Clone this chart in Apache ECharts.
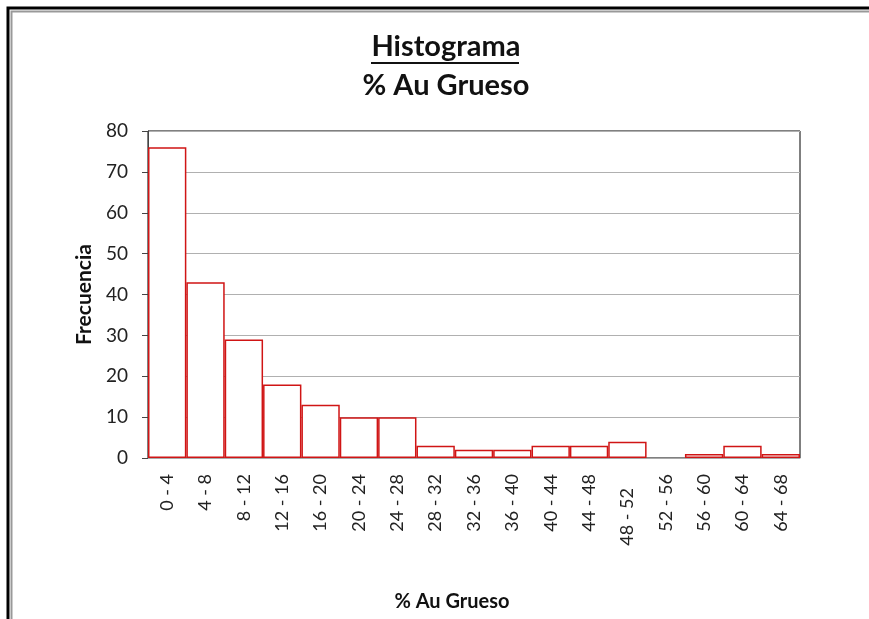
<!DOCTYPE html>
<html lang="es">
<head>
    <meta charset="UTF-8">
    <title>Histograma</title>
</head>
<body style="margin:0;background:#fff;">
<div id="main" style="width: 869px;height:619px;"></div>
<script src="https://cdn.jsdelivr.net/npm/echarts@6/dist/echarts.min.js"></script>
<script>
// rangos de % Au grueso y frecuencia de cada uno
const rangos = ['0 - 4', '4 - 8', '8 - 12', '12 - 16', '16 - 20', '20 - 24', '24 - 28', '28 - 32',
    '32 - 36', '36 - 40', '40 - 44', '44 - 48', '48 - 52', '52 - 56', '56 - 60', '60 - 64', '64 - 68']
const frecuencia = [76, 43, 29, 18, 13, 10, 10, 3, 2, 2, 3, 3, 4, 0, 1, 3, 1]
const yTicks = [0, 10, 20, 30, 40, 50, 60, 70, 80]

const FONT = 'Lato, "Open Sans", sans-serif'

let myChart = echarts.init(document.getElementById('main'))

// Excel dejó la etiqueta 48 - 52 un poco más abajo
let categorias = rangos.map(r => r === '48 - 52'
    ? {value: r, textStyle: {padding: [0, 14, 0, 0]}}
    : r)

// las barras con frecuencia 0 no dibujan borde
let barras = frecuencia.map(v => v === 0
    ? {value: v, itemStyle: {borderColor: 'transparent'}}
    : v)

let option = {
    animation: false,
    title: {
        text: 'Histograma',
        subtext: '% Au Grueso',
        left: 441,
        textAlign: 'center',
        top: 27,
        itemGap: 10,
        textStyle: {fontFamily: FONT, fontSize: 29, fontWeight: 'bold', color: '#111'},
        subtextStyle: {fontFamily: FONT, fontSize: 29, fontWeight: 'bold', color: '#111'}
    },
    graphic: [
        // marco exterior
        {type: 'rect', shape: {x: 8, y: 8, width: 900, height: 700}, style: {fill: 'none', stroke: '#000', lineWidth: 3}},
        {type: 'rect', shape: {x: 11.5, y: 11.5, width: 900, height: 700}, style: {fill: 'none', stroke: '#999', lineWidth: 2}},
        // subrayado del título
        {type: 'line', shape: {x1: 371, y1: 63, x2: 519, y2: 63}, style: {stroke: '#111', lineWidth: 2}}
    ],
    grid: {left: 148, right: 69, top: 131, bottom: 161, show: true, borderColor: '#000', borderWidth: 1},
    xAxis: {
        type: 'category',
        data: categorias,
        name: '% Au Grueso',
        nameLocation: 'middle',
        nameGap: 134,
        nameTextStyle: {fontFamily: FONT, fontSize: 20, fontWeight: 'bold', color: '#111', padding: [0, 44, 0, 0]},
        axisLine: {lineStyle: {color: '#aaa'}},
        axisTick: {show: false},
        axisLabel: {rotate: 90, margin: 16, fontFamily: FONT, fontSize: 18, color: '#222', interval: 0}
    },
    yAxis: {
        type: 'value',
        min: yTicks[0],
        max: yTicks[yTicks.length - 1],
        interval: 10,
        name: 'Frecuencia',
        nameLocation: 'middle',
        nameGap: 52,
        nameTextStyle: {fontFamily: FONT, fontSize: 21, fontWeight: 'bold', color: '#111'},
        axisLine: {show: true, lineStyle: {color: '#444'}},
        axisTick: {show: true, length: 6, lineStyle: {color: '#444'}},
        axisLabel: {margin: 20, fontFamily: FONT, fontSize: 19, color: '#222'},
        splitLine: {lineStyle: {color: '#b0b0b0'}}
    },
    series: [{
        type: 'bar',
        data: barras,
        barCategoryGap: '0%',
        itemStyle: {color: '#fff', borderColor: '#d01515', borderWidth: 1.5}
    }]
}

myChart.setOption(option)
</script>
</body>
</html>
